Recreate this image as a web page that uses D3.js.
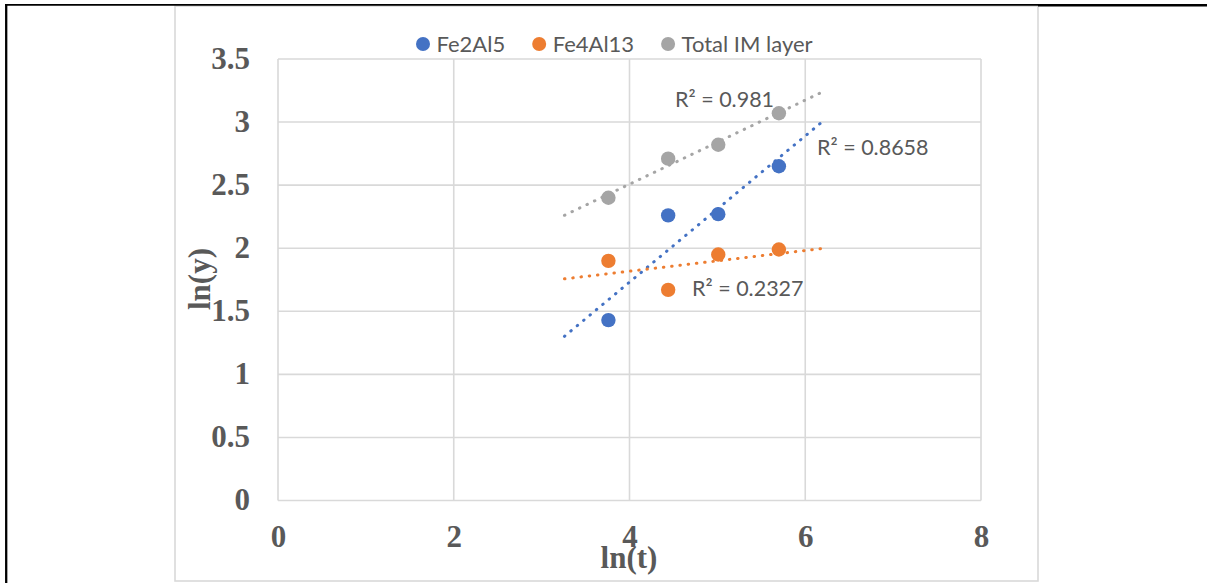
<!DOCTYPE html>
<html>
<head>
<meta charset="utf-8">
<script src="https://cdn.jsdelivr.net/npm/d3@7/dist/d3.min.js"></script>
<style>
  html, body { margin: 0; padding: 0; background: #fff; }
  svg { display: block; }
</style>
</head>
<body>
<svg id="chart" width="1207" height="583"></svg>
<script>
// ln(t) values for the four annealing times
const lnT = [3.76, 4.44, 5.01, 5.70];
// ln(y) thickness values per layer
const fe2al5 = [1.43, 2.26, 2.27, 2.65];
const fe4al13 = [1.90, 1.67, 1.95, 1.99];
const totalIM = [2.40, 2.71, 2.82, 3.07];
const seriesNames = ["Fe2Al5", "Fe4Al13", "Total IM layer"];
const seriesColors = ["#4472C4", "#ED7D31", "#A5A5A5"];
const r2Labels = ["R² = 0.8658", "R² = 0.2327", "R² = 0.981"];
const xTicks = [0, 2, 4, 6, 8];
const yTicks = [0, 0.5, 1, 1.5, 2, 2.5, 3, 3.5];
const trendBackward = 0.5, trendForward = 0.5;

const svg = d3.select("#chart");
const W = 1207, H = 583;

// chart area box
svg.append("rect").attr("x", 175).attr("y", 6).attr("width", 863).attr("height", 575)
  .attr("fill", "#fff").attr("stroke", "#d9d9d9").attr("stroke-width", 1.6);

// outer page frame
svg.append("line").attr("x1", 5).attr("x2", W).attr("y1", 4.8).attr("y2", 4.8)
  .attr("stroke", "#000").attr("stroke-width", 1.8);
svg.append("line").attr("x1", 1038).attr("x2", W).attr("y1", 5.2).attr("y2", 5.2)
  .attr("stroke", "#000").attr("stroke-width", 2.6);
svg.append("line").attr("x1", 6.2).attr("x2", 6.2).attr("y1", 4).attr("y2", H)
  .attr("stroke", "#000").attr("stroke-width", 2.3);

const plot = { left: 278, right: 981, top: 59, bottom: 500.5 };
const x = d3.scaleLinear().domain([0, 8]).range([plot.left, plot.right]);
const y = d3.scaleLinear().domain([0, 3.5]).range([plot.bottom, plot.top]);

// gridlines
const grid = svg.append("g").attr("stroke", "#d9d9d9").attr("stroke-width", 1.6);
grid.selectAll("line.h").data(yTicks).join("line").attr("class", "h")
  .attr("x1", plot.left).attr("x2", plot.right)
  .attr("y1", d => y(d)).attr("y2", d => y(d));
grid.selectAll("line.v").data(xTicks).join("line").attr("class", "v")
  .attr("y1", plot.top).attr("y2", plot.bottom)
  .attr("x1", d => x(d)).attr("x2", d => x(d));

// axes (tick labels only)
const tickFont = "'Liberation Serif', 'Times New Roman', serif";
const yAxis = svg.append("g").attr("transform", `translate(${plot.left},0)`)
  .call(d3.axisLeft(y).tickValues(yTicks).tickSize(0).tickPadding(28).tickFormat(d3.format("")));
const xAxis = svg.append("g").attr("transform", `translate(0,${plot.bottom})`)
  .call(d3.axisBottom(x).tickValues(xTicks).tickSize(0).tickPadding(24).tickFormat(d3.format("")));
[yAxis, xAxis].forEach(a => {
  a.select(".domain").remove();
  a.selectAll("text").attr("font-family", tickFont).attr("font-weight", "bold")
    .attr("font-size", 31).attr("fill", "#595959");
});
yAxis.selectAll("text").attr("dy", "0.3em");

// axis titles
svg.append("text").attr("x", 629).attr("y", 568).attr("text-anchor", "middle")
  .attr("font-family", tickFont).attr("font-weight", "bold").attr("font-size", 31)
  .attr("fill", "#595959").text("ln(t)");
svg.append("text").attr("transform", "translate(210,279) rotate(-90)").attr("text-anchor", "middle")
  .attr("font-family", tickFont).attr("font-weight", "bold").attr("font-size", 31)
  .attr("fill", "#595959").text("ln(y)");

const series = [fe2al5, fe4al13, totalIM].map((vals, i) => ({
  name: seriesNames[i], color: seriesColors[i], label: r2Labels[i],
  pts: lnT.map((t, j) => ({ x: t, y: vals[j] }))
}));

// least-squares linear trendline
function fit(pts) {
  const mx = d3.mean(pts, p => p.x), my = d3.mean(pts, p => p.y);
  const sxy = d3.sum(pts, p => (p.x - mx) * (p.y - my));
  const sxx = d3.sum(pts, p => (p.x - mx) ** 2);
  const b = sxy / sxx;
  return xv => my + b * (xv - mx);
}

const line = d3.line().x(d => x(d[0])).y(d => y(d[1]));
const x0 = d3.min(lnT) - trendBackward, x1 = d3.max(lnT) + trendForward;
series.forEach(s => {
  const f = fit(s.pts);
  svg.append("path").attr("d", line([[x0, f(x0)], [x1, f(x1)]]))
    .attr("fill", "none").attr("stroke", s.color).attr("stroke-width", 3)
    .attr("stroke-linecap", "round").attr("stroke-dasharray", "0.5 7.8");
});

// points
series.forEach(s => {
  svg.append("g").selectAll("circle").data(s.pts).join("circle")
    .attr("cx", d => x(d.x)).attr("cy", d => y(d.y)).attr("r", 7.2)
    .attr("fill", s.color);
});

// R² labels
const labelFont = "Lato, 'Open Sans', sans-serif";
const r2Pos = [[817, 155], [692, 296], [675, 106.5]];
series.forEach((s, i) => {
  svg.append("text").attr("x", r2Pos[i][0]).attr("y", r2Pos[i][1])
    .attr("font-family", labelFont).attr("font-size", 21.5).attr("fill", "#595959")
    .text(s.label);
});

// legend
const legend = svg.append("g");
let lx = 416;
series.forEach(s => {
  legend.append("circle").attr("cx", lx + 7).attr("cy", 44).attr("r", 7).attr("fill", s.color);
  const t = legend.append("text").attr("x", lx + 20.5).attr("y", 51.7)
    .attr("font-family", labelFont).attr("font-size", 22).attr("fill", "#595959").text(s.name);
  lx += 20.5 + t.node().getComputedTextLength() + 27;
});
</script>
</body>
</html>
